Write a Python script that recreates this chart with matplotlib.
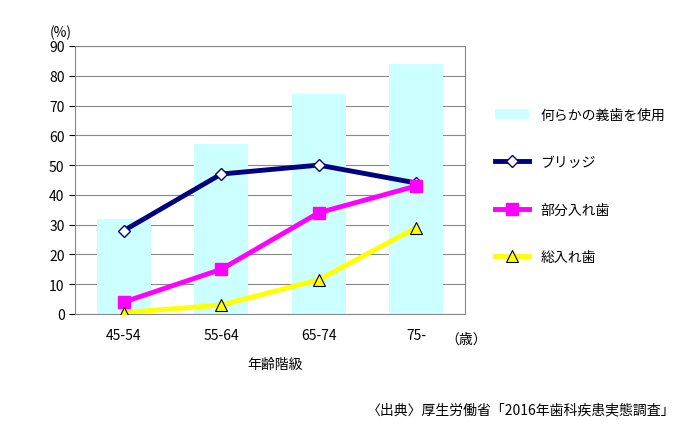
import matplotlib
matplotlib.use('Agg')
import matplotlib.pyplot as plt

plt.rcParams['font.family'] = 'Noto Sans CJK JP'

categories = ['45-54', '55-64', '65-74', '75-']
denture_any = [32, 57, 74, 84]
bridge = [28, 47, 50, 44]
partial = [4, 15, 34, 43]
full = [0.5, 3, 11.5, 29]

fig = plt.figure(figsize=(6.89, 4.35), dpi=100)
ax = fig.add_axes([75 / 689, 1 - 315 / 435, 390 / 689, 268 / 435])
x = range(len(categories))

b = ax.bar(x, denture_any, width=0.55, color='#ccffff', label='何らかの義歯を使用', zorder=1)
l1, = ax.plot(x, bridge, color='#000080', lw=3.5, marker='D', ms=6, mfc='white', mec='#000080',
              label='ブリッジ', zorder=3)
l2, = ax.plot(x, partial, color='#ff00ff', lw=3.5, marker='s', ms=8, mfc='#ff00ff', mec='#ff00ff',
              label='部分入れ歯', zorder=3)
l3, = ax.plot(x, full, color='#ffff00', lw=3.5, marker='^', ms=9, mfc='#ffff00', mec='black', mew=0.8,
              label='総入れ歯', zorder=3)

ax.set_xlim(-0.5, 3.5)
ax.set_ylim(0, 90)
ax.set_yticks(range(0, 91, 10))
ax.set_xticks(list(x))
ax.set_xticklabels(categories, fontsize=10)
ax.tick_params(axis='y', labelsize=10, length=4)
ax.tick_params(axis='x', length=0, pad=10)
ax.grid(axis='y', color='#888888', lw=0.8, zorder=0)
ax.set_axisbelow(True)
for s in ax.spines.values():
    s.set_color('#888888')

fig.text(50 / 689, 1 - 33 / 435, '(%)', fontsize=10, va='center')
fig.text(445 / 689, 1 - 340 / 435, '（歳）', fontsize=10, va='center')
fig.text(275 / 689, 1 - 365 / 435, '年齢階級', fontsize=10, ha='center', va='center')
fig.text(675 / 689, 1 - 410 / 435, '〈出典〉厚生労働省「2016年歯科疾患実態調査」', fontsize=10,
         ha='right', va='center')

fig.legend(handles=[b, l1, l2, l3], loc='center left', bbox_to_anchor=(482 / 689, 1 - 187 / 435),
           frameon=False, fontsize=10, labelspacing=2.4, handlelength=2.5)

fig.savefig('out.png', dpi=100)
